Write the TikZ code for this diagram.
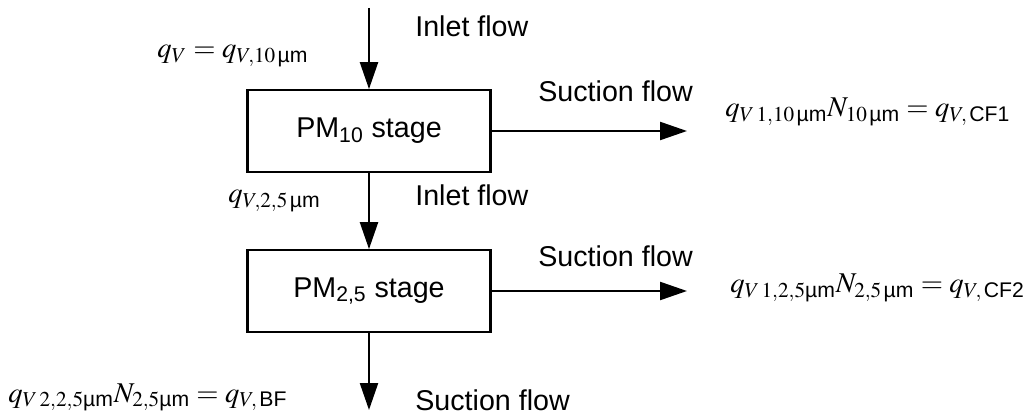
\documentclass[tikz,border=0pt]{standalone}
\usepackage{amsmath}
\usepackage{mathptmx}
\usepackage[no-math]{fontspec}
\setmainfont{Liberation Sans}
\usetikzlibrary{arrows.meta,positioning}
\newcommand{\um}{\text{µm}}

\begin{document}
\begin{tikzpicture}[x=0.02cm,y=-0.02cm,
    font=\fontsize{16.3}{19}\selectfont,
    stagebox/.style={draw,line width=1.3pt,minimum width=4.86cm,minimum height=1.63cm,inner sep=0pt},
    flow/.style={line width=1.3pt,-{Triangle[length=0.54cm,width=0.36cm]}},
    lbl/.style={inner sep=0pt,anchor=base west}]
  \useasboundingbox (0,0) rectangle (1035,415);
  % stages
  \node[stagebox] (pm10) at (369,131) {PM$_{\text{10}}$ stage};
  \node[stagebox] (pm25) at (369,291) {PM$_{\text{2,5}}$ stage};
  \coordinate (in) at (369,8);
  \coordinate (cf1) at (687,131);
  \coordinate (cf2) at (687,291);
  \coordinate (bf) at (369,410);
  % flows
  \draw[flow] (in) -- (pm10);
  \draw[flow] (pm10) -- (pm25);
  \draw[flow] (pm25) -- (bf);
  \draw[flow] (pm10) -- (cf1);
  \draw[flow] (pm25) -- (cf2);
  % labels
  \node[lbl] (inlet1) at (415,37) {Inlet flow};
  \node[lbl] (qin) at (157,58) {$q_V = q_{V,10\,\um}$};
  \node[lbl] (suction1) at (538,102) {Suction flow};
  \node[lbl] (qcf1) at (725,117) {$q_{V\,1,10\,\um}N_{10\,\um} = q_{V,\,\text{CF1}}$};
  \node[lbl] (inlet2) at (415,206) {Inlet flow};
  \node[lbl] (qmid) at (228,203) {$q_{V,2,5\,\um}$};
  \node[lbl] (suction2) at (538,267) {Suction flow};
  \node[lbl] (qcf2) at (730,293) {$q_{V\,1,2,5\um}N_{2,5\,\um} = q_{V,\,\text{CF2}}$};
  \node[lbl] (qbf) at (8,402) {$q_{V\,2,2,5\um}N_{2,5\um} = q_{V,\,\text{BF}}$};
  \node[lbl] (suction3) at (415,410) {Suction flow};
\end{tikzpicture}
\end{document}
